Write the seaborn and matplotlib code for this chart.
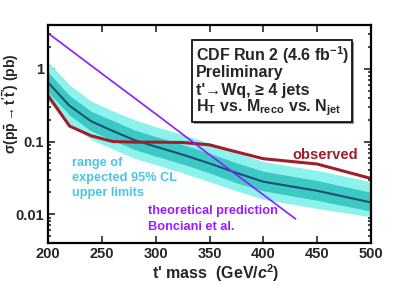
import numpy as np
import pandas as pd
import matplotlib
matplotlib.use("Agg")
import matplotlib.pyplot as plt
import matplotlib.ticker as mticker
from matplotlib.patches import Rectangle
import seaborn as sns

# t' mass points (GeV/c^2)
mass = [200, 220, 240, 260, 280, 300, 325, 350, 375, 400, 450, 500]
expected = [0.65, 0.31, 0.19, 0.14, 0.105, 0.085, 0.066, 0.05, 0.037, 0.028, 0.021, 0.0145]
light_hi = [1.25, 0.6, 0.36, 0.265, 0.2, 0.16, 0.125, 0.095, 0.07, 0.053, 0.04, 0.028]
dark_hi = [0.9, 0.43, 0.26, 0.195, 0.145, 0.117, 0.091, 0.069, 0.051, 0.039, 0.029, 0.02]
dark_lo = [0.48, 0.23, 0.14, 0.104, 0.078, 0.063, 0.049, 0.037, 0.027, 0.021, 0.0155, 0.011]
light_lo = [0.36, 0.175, 0.107, 0.079, 0.059, 0.048, 0.037, 0.028, 0.021, 0.016, 0.012, 0.0092]
observed = [0.43, 0.163, 0.12, 0.10, 0.098, 0.098, 0.097, 0.09, 0.072, 0.058, 0.049, 0.031]

theory_mass = [200, 250, 300, 350, 400, 430]
theory_xsec = [3.1, 0.86, 0.24, 0.066, 0.0185, 0.0086]

sns.set_style("ticks")
plt.rcParams['font.family'] = ['Liberation Sans', 'DejaVu Sans']
plt.rcParams['font.weight'] = 'bold'
plt.rcParams['mathtext.fontset'] = 'custom'
plt.rcParams['mathtext.rm'] = 'Liberation Sans:bold'
plt.rcParams['mathtext.bf'] = 'Liberation Sans:bold'
plt.rcParams['mathtext.it'] = 'Liberation Sans:italic:bold'
plt.rcParams['mathtext.bfit'] = 'Liberation Sans:italic:bold'

df = pd.DataFrame({"mass": mass, "expected": expected, "observed": observed})
th = pd.DataFrame({"mass": theory_mass, "xsec": theory_xsec})

fig = plt.figure(figsize=(4.07, 2.85), dpi=100)
ax = fig.add_axes([0.118, 0.147, 0.7935, 0.765])

ax.fill_between(mass, light_lo, light_hi, color="#8ef2ec", lw=0)
ax.fill_between(mass, dark_lo, dark_hi, color="#3cc9c6", lw=0)
sns.lineplot(data=df, x="mass", y="expected", ax=ax, color="#1d4f70", lw=1.5)
sns.lineplot(data=df, x="mass", y="observed", ax=ax, color="#9e1f2a", lw=2.2)
sns.lineplot(data=th, x="mass", y="xsec", ax=ax, color="#8a1cff", lw=1.2)

ax.set_yscale("log")
ax.set_xlim(200, 500)
ax.set_ylim(0.004, 4)
ax.set_xticks([200, 250, 300, 350, 400, 450, 500])
ax.set_yticks([0.01, 0.1, 1])
ax.yaxis.set_major_formatter(mticker.FixedFormatter(["0.01", "0.1", "1"]))
ax.yaxis.set_minor_locator(mticker.LogLocator(base=10, subs=np.arange(2, 10)))
ax.yaxis.set_minor_formatter(mticker.NullFormatter())
ax.tick_params(which="both", direction="in", top=True, right=True, width=1.2)
ax.tick_params(which="major", length=5, labelsize=10.5, pad=3)
ax.tick_params(which="minor", length=2.5)
for s in ax.spines.values():
    s.set_linewidth(1.6)
    s.set_color("black")

ax.set_xlabel(r"t' mass  (GeV/$\boldsymbol{c}^{\mathbf{2}}$)", fontsize=11.5, fontweight="bold", va="center")
ax.xaxis.set_label_coords(0.52, -0.138)
ax.set_ylabel(r"$\mathbf{\sigma(p\bar{p}\rightarrow t'\bar{t}')}$ (pb)", fontsize=10, fontweight="bold",
              va="center")
ax.yaxis.set_label_coords(-0.112, 0.64)

# info box with shadow
fig.patches.append(Rectangle((194 / 407, 1 - 124 / 285), 160 / 407, 82 / 285,
                             transform=fig.transFigure, facecolor="#999999", edgecolor="none", zorder=5))
fig.patches.append(Rectangle((192 / 407, 1 - 122 / 285), 160 / 407, 82 / 285,
                             transform=fig.transFigure, facecolor="white", edgecolor="black", lw=1.2, zorder=6))
box_lines = [r"CDF Run 2 (4.6 fb$^{\mathbf{-1}}$)", "Preliminary", "t'\u2192Wq, \u2265 4 jets",
             r"H$_{\mathbf{T}}$ vs. M$_{\mathbf{reco}}$ vs. N$_{\mathbf{jet}}$"]
for i, line in enumerate(box_lines):
    fig.text(196 / 407, 1 - (55 + 17.7 * i) / 285, line, fontsize=11.5, fontweight="bold",
             va="center", ha="left", zorder=7)

for i, line in enumerate(["range of", "expected 95% CL", "upper limits"]):
    fig.text(72 / 407, 1 - (163 + 15 * i) / 285, line, fontsize=9.2, fontweight="bold",
             color="#4cc4e2", va="center", ha="left")
for i, line in enumerate(["theoretical prediction", "Bonciani et al."]):
    fig.text(148 / 407, 1 - (211 + 16 * i) / 285, line, fontsize=9.2, fontweight="bold",
             color="#9a1cff", va="center", ha="left")
fig.text(325 / 407, 1 - 155 / 285, "observed", fontsize=10.5, fontweight="bold",
         color="#9e1f2a", va="center", ha="center")

fig.savefig("out.png", dpi=100)
